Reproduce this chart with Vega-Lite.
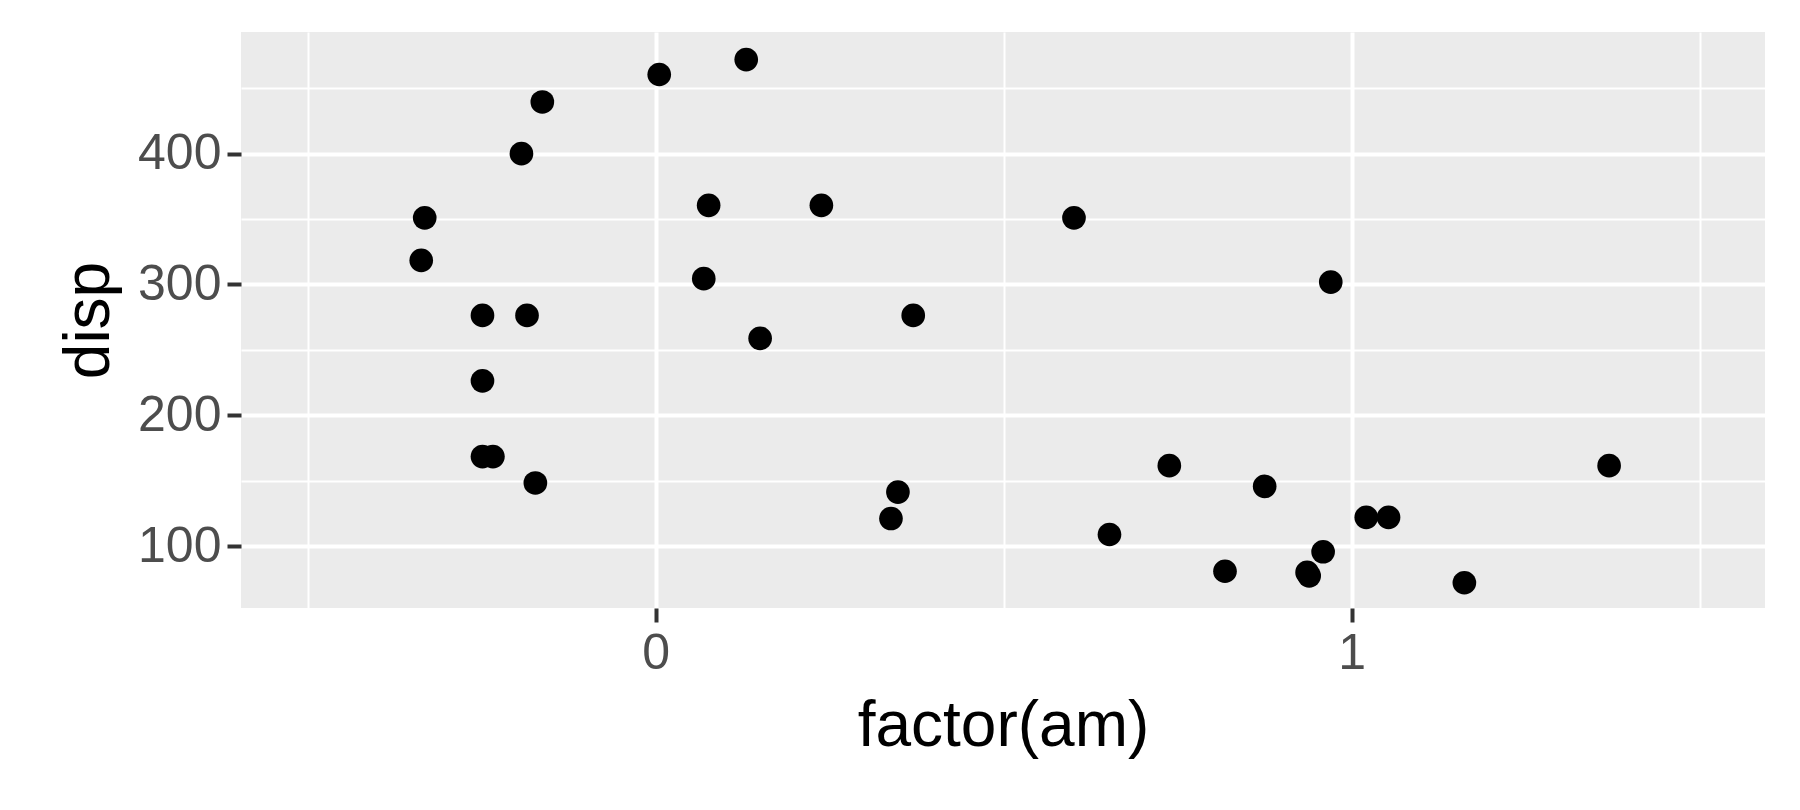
{
  "$schema": "https://vega.github.io/schema/vega-lite/v6.json",
  "autosize": "none",
  "width": 1524,
  "height": 576,
  "padding": {"left": 241, "top": 32, "right": 35, "bottom": 202},
  "background": "white",
  "config": {
    "view": {"fill": "#EBEBEB", "stroke": null},
    "font": "Liberation Sans"
  },
  "data": {
    "values": [
      {"am": -0.332, "disp": 350.9}, {"am": -0.337, "disp": 318.4},
      {"am": -0.249, "disp": 276.3}, {"am": -0.249, "disp": 226.3},
      {"am": -0.249, "disp": 168.4}, {"am": -0.234, "disp": 168.4},
      {"am": -0.193, "disp": 400}, {"am": -0.185, "disp": 276.3},
      {"am": -0.173, "disp": 148.2}, {"am": -0.163, "disp": 439.5},
      {"am": 0.005, "disp": 460.5}, {"am": 0.069, "disp": 304.4},
      {"am": 0.076, "disp": 360.5}, {"am": 0.13, "disp": 471.9},
      {"am": 0.15, "disp": 258.8}, {"am": 0.238, "disp": 360.5},
      {"am": 0.338, "disp": 121}, {"am": 0.348, "disp": 141.2},
      {"am": 0.37, "disp": 276.3}, {"am": 0.601, "disp": 350.9},
      {"am": 0.652, "disp": 108.8}, {"am": 0.738, "disp": 161.4},
      {"am": 0.818, "disp": 80.7}, {"am": 0.875, "disp": 145.6},
      {"am": 0.936, "disp": 79.8}, {"am": 0.939, "disp": 77.2},
      {"am": 0.959, "disp": 95.6}, {"am": 0.97, "disp": 301.8},
      {"am": 1.021, "disp": 121.9}, {"am": 1.053, "disp": 121.9},
      {"am": 1.162, "disp": 71.9}, {"am": 1.37, "disp": 161.4}
    ]
  },
  "mark": {"type": "circle", "size": 560, "color": "black", "opacity": 1},
  "encoding": {
    "x": {
      "field": "am", "type": "quantitative", "title": "factor(am)",
      "scale": {"domain": [-0.596, 1.594], "nice": false, "zero": false},
      "axis": {
        "values": [-0.5, 0, 0.5, 1, 1.5],
        "labelExpr": "datum.value === 0 || datum.value === 1 ? format(datum.value, 'd') : ''",
        "domain": false,
        "gridColor": "white",
        "gridWidth": {"condition": {"test": "datum.value === 0 || datum.value === 1", "value": 4}, "value": 2},
        "tickOpacity": {"condition": {"test": "datum.value === 0 || datum.value === 1", "value": 1}, "value": 0},
        "tickColor": "#333333", "tickSize": 14, "tickWidth": 4,
        "labelFontSize": 50, "labelColor": "#4d4d4d", "labelPadding": 6,
        "titleFontSize": 64, "titleFontWeight": "normal", "titleColor": "black", "titlePadding": 16
      }
    },
    "y": {
      "field": "disp", "type": "quantitative", "title": "disp",
      "scale": {"domain": [52.6, 493], "nice": false, "zero": false},
      "axis": {
        "values": [50, 100, 150, 200, 250, 300, 350, 400, 450],
        "labelExpr": "datum.value % 100 === 0 ? datum.label : ''",
        "domain": false,
        "gridColor": "white",
        "gridWidth": {"condition": {"test": "datum.value % 100 === 0", "value": 4}, "value": 2},
        "tickOpacity": {"condition": {"test": "datum.value % 100 === 0", "value": 1}, "value": 0},
        "tickColor": "#333333", "tickSize": 14, "tickWidth": 4,
        "labelFontSize": 50, "labelColor": "#4d4d4d", "labelPadding": 6,
        "titleFontSize": 64, "titleFontWeight": "normal", "titleColor": "black", "titlePadding": 16
      }
    }
  }
}
